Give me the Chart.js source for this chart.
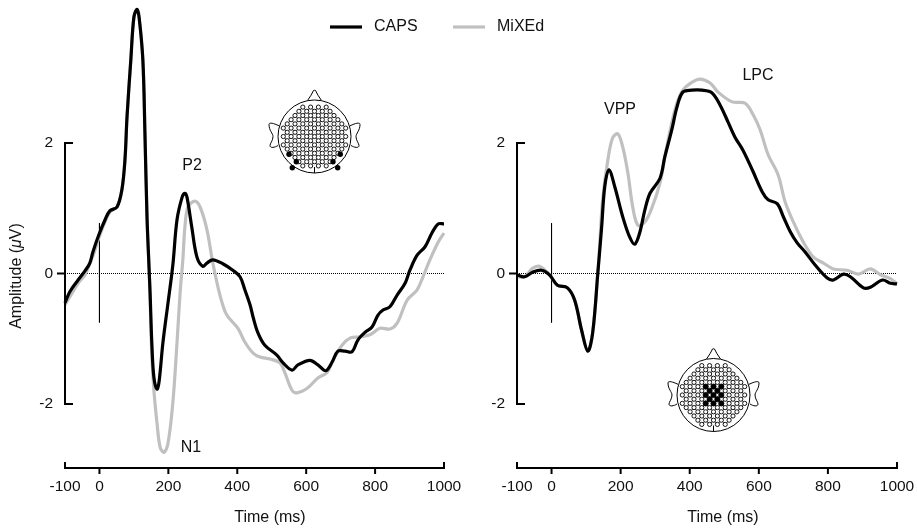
<!DOCTYPE html>
<html><head><meta charset="utf-8">
<script src="https://cdn.jsdelivr.net/npm/chart.js@4"></script>
<style>html,body{margin:0;padding:0;background:#fff}canvas{position:absolute;left:0;top:0}</style>
</head><body>
<canvas id="c1" width="917" height="529"></canvas>
<canvas id="c2" width="917" height="529"></canvas>
<script>
const xTicks=[-100,0,200,400,600,800,1000];
const yTicks=[-2,0,2];
const seriesNames=['CAPS','MiXEd'];
const xTitle='Time (ms)';
const leftCapsT=[-100,-86,-62,-42,-28,-19,-2,16,30,51,65,74,80,91,100,109,115,126,132,138,144,147,152,158,167,173,184,199,213,225,240,248,254,268,283,300,312,329,358,387,408,422,437,446,460,480,515,533,559,576,611,634,657,675,692,713,733,750,771,791,808,823,843,864,887,901,922,945,965,983,1000];
const leftCapsV=[-0.45,-0.28,-0.10,0.04,0.16,0.33,0.59,0.82,0.96,1.02,1.28,1.74,2.40,3.27,3.93,4.05,3.93,3.27,2.15,0.87,0.08,-0.30,-1.07,-1.59,-1.77,-1.66,-1.07,-0.45,0.13,0.82,1.17,1.23,1.17,0.71,0.25,0.11,0.16,0.21,0.15,0.05,-0.05,-0.25,-0.48,-0.67,-0.91,-1.10,-1.25,-1.37,-1.48,-1.40,-1.33,-1.40,-1.49,-1.36,-1.19,-1.19,-1.20,-1.02,-0.90,-0.82,-0.64,-0.56,-0.51,-0.33,-0.15,0.05,0.28,0.41,0.62,0.76,0.76];
const leftMixT=[-100,-62,-42,-19,-2,16,30,51,65,74,80,91,100,109,115,126,132,138,144,147,152,158,167,176,187,199,213,225,234,242,248,257,277,292,312,329,344,356,370,402,422,446,466,495,524,538,559,573,605,634,660,678,704,727,756,785,814,843,864,893,922,939,959,983,1000];
const leftMixV=[-0.48,-0.15,-0.02,0.27,0.54,0.79,0.94,1.02,1.28,1.74,2.40,3.27,3.93,4.05,3.93,3.27,2.15,0.87,0.08,-0.41,-1.25,-1.79,-2.29,-2.66,-2.74,-2.60,-1.98,-1.07,-0.30,0.21,0.71,1.02,1.11,1.02,0.67,0.16,-0.21,-0.45,-0.64,-0.84,-1.05,-1.22,-1.28,-1.31,-1.37,-1.52,-1.79,-1.83,-1.75,-1.60,-1.52,-1.33,-1.10,-0.99,-0.97,-0.94,-0.84,-0.85,-0.76,-0.41,-0.25,-0.05,0.21,0.48,0.62];
const rightCapsT=[-100,-78,-55,-29,-6,17,46,67,87,105,119,134,145,154,166,183,206,226,241,255,270,285,314,328,348,363,380,406,435,464,488,511,531,554,581,610,627,653,671,691,711,734,763,798,816,845,865,903,923,958,981,1000];
const rightCapsV=[-0.02,-0.05,0.02,0.05,-0.02,-0.18,-0.22,-0.41,-0.87,-1.19,-0.91,0.01,0.71,1.33,1.59,1.33,0.87,0.56,0.45,0.62,0.97,1.23,1.46,1.79,2.20,2.55,2.78,2.81,2.81,2.77,2.58,2.32,2.09,1.89,1.59,1.25,1.13,1.07,0.87,0.64,0.47,0.33,0.13,-0.07,-0.10,-0.01,-0.05,-0.22,-0.21,-0.10,-0.15,-0.16];
const rightMixT=[-100,-78,-55,-35,-6,17,46,67,87,105,119,134,139,148,163,177,192,206,221,235,250,270,290,314,328,348,363,380,406,430,459,482,523,560,584,604,627,656,676,700,729,758,787,816,856,888,923,952,981,1000];
const rightMixV=[-0.05,-0.05,0.08,0.11,-0.02,-0.18,-0.22,-0.41,-0.87,-1.19,-0.91,0.01,0.41,1.13,1.74,2.08,2.14,1.94,1.54,1.02,0.74,0.79,1.00,1.39,1.79,2.31,2.61,2.81,2.93,2.98,2.92,2.78,2.63,2.61,2.43,2.20,1.82,1.51,1.10,0.79,0.48,0.25,0.16,0.07,0.05,-0.01,0.07,-0.02,-0.08,-0.16];
const labelsLeft=[['P2',192,166],['N1',191,448]];
const labelsRight=[['VPP',620,110],['LPC',758,76]];
const FONT='"Liberation Sans",Arial,sans-serif';
const TXT='#111';
const pts=(t,v)=>t.map((x,i)=>({x,y:v[i]}));

function lattice(){const a=[];for(let j=-8;j<=8;j++){for(let i=-8;i<=8;i++){if((i+j+200)%2)continue;const dx=i*3.9,dy=j*4.2;if(Math.hypot(dx,dy)<=33) a.push({i,j,dx,dy});}}return a;}
function head(ctx,cx,cy,black,blackFn){
  const r=36.5;ctx.save();ctx.lineWidth=1;ctx.strokeStyle='#000';
  ctx.beginPath();ctx.moveTo(cx-7,cy-r+.5);ctx.quadraticCurveTo(cx-3,cy-r-5,cx-1,cy-r-9.5);ctx.quadraticCurveTo(cx,cy-r-10,cx+1,cy-r-9.5);ctx.quadraticCurveTo(cx+3,cy-r-5,cx+7,cy-r+.5);ctx.stroke();
  for(const s of[-1,1]){ctx.beginPath();ctx.moveTo(cx+s*(r-1),cy-10.7);ctx.bezierCurveTo(cx+s*(r+6),cy-14,cx+s*(r+9),cy-14,cx+s*(r+9),cy-12);ctx.bezierCurveTo(cx+s*(r+9),cy-6,cx+s*(r+5),cy-3,cx+s*(r+5),cy);ctx.bezierCurveTo(cx+s*(r+5),cy+4,cx+s*(r+8),cy+7,cx+s*(r+8),cy+9);ctx.bezierCurveTo(cx+s*(r+8),cy+12,cx+s*(r+3),cy+11,cx+s*r,cy+9);ctx.stroke();}
  ctx.beginPath();ctx.arc(cx,cy,r,0,Math.PI*2);ctx.fillStyle='#fff';ctx.fill();ctx.stroke();
  ctx.beginPath();ctx.moveTo(cx,cy+r-6);ctx.lineTo(cx,cy+r);ctx.stroke();
  const L=lattice();const set=new Map(L.map(p=>[p.i+','+p.j,p]));
  ctx.lineWidth=.8;ctx.beginPath();
  for(const p of L){for(const [a,b] of [[1,1],[-1,1]]){const q=set.get((p.i+a)+','+(p.j+b));if(q){ctx.moveTo(cx+p.dx,cy+p.dy);ctx.lineTo(cx+q.dx,cy+q.dy);}}}
  ctx.stroke();
  ctx.lineWidth=.9;
  for(const p of L){const isB=blackFn&&blackFn(p);ctx.beginPath();ctx.arc(cx+p.dx,cy+p.dy,isB?2.6:2.1,0,7);ctx.fillStyle=isB?'#000':'#fff';ctx.fill();ctx.stroke();}
  for(const b of black){ctx.beginPath();ctx.arc(cx+b[0],cy+b[1],2.7,0,7);ctx.fillStyle='#000';ctx.fill();}
  ctx.restore();
}
function decor(opts){return{id:'decor'+opts.id,afterDraw(chart){
  const c=chart.ctx,X=chart.scales.x,Y=chart.scales.y;
  const ax=X.getPixelForValue(-100),ay0=Y.getPixelForValue(-2),ay1=Y.getPixelForValue(2),yz=Y.getPixelForValue(0),bot=chart.chartArea.bottom;
  c.save();c.strokeStyle='#000';c.lineWidth=2;c.lineCap='butt';
  c.beginPath();c.moveTo(ax,ay1-1);c.lineTo(ax,ay0+1);c.stroke();
  c.beginPath();c.moveTo(ax,ay1);c.lineTo(ax+8,ay1);c.moveTo(ax,ay0);c.lineTo(ax+8,ay0);c.moveTo(ax-8,yz);c.lineTo(ax,yz);c.stroke();
  c.beginPath();c.moveTo(ax-1,bot);c.lineTo(X.getPixelForValue(1000)+1,bot);c.stroke();
  c.beginPath();
  for(const t of xTicks){const p=X.getPixelForValue(t);if(t===-100||t===1000){c.moveTo(p,bot-6);c.lineTo(p,bot);}else{c.moveTo(p,bot);c.lineTo(p,bot+6);}}
  c.stroke();
  c.fillStyle=TXT;c.font='16px '+FONT;c.textAlign='center';c.textBaseline='middle';
  for(const l of opts.labels)c.fillText(l[0],l[1],l[2]);
  c.fillText(xTitle,opts.titleX,518);
  head(c,opts.hx,opts.hy,opts.black,opts.blackFn);
  if(opts.yTitle){
    c.save();c.translate(17,276);c.rotate(-Math.PI/2);c.textAlign='left';
    const segs=[['Amplitude (','16px '],['μ','italic 16px '],['V)','16px ']];
    let w=0;for(const s of segs){c.font=s[1]+FONT;w+=c.measureText(s[0]).width;}
    let x=-w/2;for(const s of segs){c.font=s[1]+FONT;c.fillText(s[0],x,0);x+=c.measureText(s[0]).width;}
    c.restore();
  }
  if(opts.legend){
    const ds=chart.data.datasets;
    c.font='16px '+FONT;c.textAlign='left';
    [[0,330,374],[1,453,497]].forEach(([k,x,tx])=>{c.strokeStyle=ds[k].borderColor;c.lineWidth=3.2;c.beginPath();c.moveTo(x,27);c.lineTo(x+32,27);c.stroke();c.fillStyle=TXT;c.fillText(ds[k].label,tx,27);});
  }
  c.restore();
}};}
function makeChart(id,caps,mix,o){
  return new Chart(document.getElementById(id),{type:'line',
    data:{datasets:[
      {label:seriesNames[0],data:caps,borderColor:'#000',borderWidth:3.2,pointRadius:0,tension:0.35,order:1,clip:false},
      {label:seriesNames[1],data:mix,borderColor:'#c0c0c0',borderWidth:3.2,pointRadius:0,tension:0.35,order:2,clip:false},
      {label:'zero',data:[{x:-100,y:0},{x:1000,y:0}],borderColor:'#000',borderWidth:1,borderDash:[1,1],pointRadius:0,order:3},
      {label:'onset',data:[{x:0,y:0.77},{x:0,y:-0.75}],borderColor:'#000',borderWidth:1,pointRadius:0,order:3}
    ]},
    options:{responsive:false,animation:false,parsing:false,
      layout:{padding:{left:o.left,right:o.right,top:0,bottom:0}},
      plugins:{legend:{display:false},tooltip:{enabled:false}},
      scales:{
        x:{type:'linear',min:-100,max:1000,grid:{display:false},border:{display:false},
          afterBuildTicks(s){s.ticks=xTicks.map(v=>({value:v}));},
          afterFit(s){s.height=61;},
          ticks:{color:TXT,font:{family:FONT,size:15.5},padding:1,maxRotation:0,autoSkip:false,callback:v=>String(v)},
          title:{display:false}},
        y:{type:'linear',min:(273.5-468)/65.25,max:273.5/65.25,grid:{display:false},border:{display:false},
          afterBuildTicks(s){s.ticks=yTicks.map(v=>({value:v}));},
          afterFit(s){s.width=65;s.paddingTop=0;s.paddingBottom=0;},
          ticks:{color:TXT,font:{family:FONT,size:15.5},padding:4,autoSkip:false,callback:v=>String(v)},
          title:{display:false}}
      }},
    plugins:[decor(o)]});
}
makeChart('c1',pts(leftCapsT,leftCapsV),pts(leftMixT,leftMixV),{id:1,left:0,right:473,yTitle:true,labels:labelsLeft,hx:314.5,hy:136.5,legend:true,titleX:270,
  black:[[-25.5,17.8],[-18.2,25.2],[-22.2,31.2],[25.8,17.8],[18.5,25.2],[23.2,31.2]]});
makeChart('c2',pts(rightCapsT,rightCapsV),pts(rightMixT,rightMixV),{id:2,left:452,right:20,yTitle:false,labels:labelsRight,hx:713.5,hy:395,legend:false,titleX:723,
  black:[],blackFn:p=>Math.abs(p.j)<=2&&Math.abs(p.i)<=2});
</script>
</body></html>
